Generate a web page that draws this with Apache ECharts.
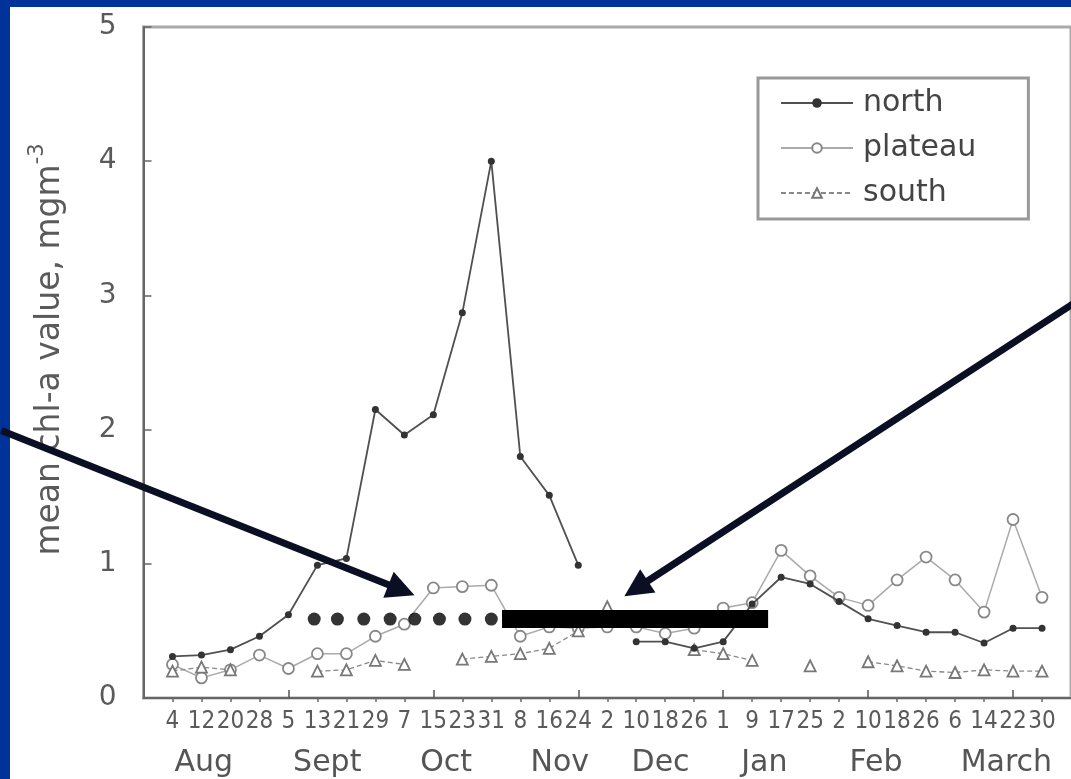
<!DOCTYPE html>
<html><head><meta charset="utf-8">
<script src="https://cdn.jsdelivr.net/npm/echarts@6/dist/echarts.min.js"></script>
<style>html,body{margin:0;padding:0;background:#003399;}#c{width:1071px;height:779px;}</style>
</head><body><div id="c"></div>
<script>
// ---- data ----
const dateLabels = ['4','12','20','28','5','13','21','29','7','15','23','31','8','16','24','2','10','18','26','1','9','17','25','2','10','18','26','6','14','22','30'];
const monthLabels = ['Aug','Sept','Oct','Nov','Dec','Jan','Feb','March'];
const monthPositions = [2.08, 6.34, 10.44, 14.36, 17.84, 21.42, 25.27, 29.77];
const north   = [0.31,0.32,0.36,0.46,0.62,0.99,1.04,2.15,1.96,2.11,2.87,4.00,1.80,1.51,0.99,null,0.42,0.42,0.37,0.42,0.70,0.90,0.85,0.72,0.59,0.54,0.49,0.49,0.41,0.52,0.52];
const plateau = [0.25,0.15,0.21,0.32,0.22,0.33,0.33,0.46,0.55,0.82,0.83,0.84,0.46,0.53,0.52,0.53,0.53,0.48,0.52,0.67,0.71,1.10,0.91,0.75,0.69,0.88,1.05,0.88,0.64,1.33,0.75];
const south   = [0.20,0.23,0.21,null,null,0.20,0.21,0.28,0.25,null,0.29,0.31,0.33,0.37,0.50,0.68,null,null,0.36,0.33,0.28,null,0.24,null,0.27,0.24,0.20,0.19,0.21,0.20,0.20];
const yTicks = [0,1,2,3,4,5];
// annotation marks (in axis units)
const dotMarksX = [5.89,6.69,7.60,8.51,9.36,10.21,11.09,12.0];
const dotMarksY = 0.588;
const barMarkX = [12.37, 21.55];
const barMarkY = 0.588;
const arrowFrom = [[-4.91, 1.994], [32.3, 2.97]];
const arrowTo   = [[9.35, 0.766], [16.59, 0.759]];

// ---- build ----
const cats = [''].concat(dateLabels, ['']);
const pad = a => [null].concat(a, [null]);
const majorIdx = i => i > 0 && i < cats.length - 1 && i % 5 === 0;
const FONT = '"DejaVu Sans", "Liberation Sans", sans-serif';
const TXT = '#5a5a5a';

const chart = echarts.init(document.getElementById('c'), null, {renderer: 'canvas'});
const option = {
  backgroundColor: '#003399',
  animation: false,
  grid: {left: 143.5, top: 27, width: 938.2, height: 671, show: true, borderColor: '#aaa', borderWidth: 3, backgroundColor: 'transparent'},
  legend: {
    data: ['north','plateau','south'], orient: 'vertical', left: 758, top: 78,
    itemWidth: 72, itemHeight: 12, itemGap: 15,
    padding: [10, 52, 11, 22],
    borderColor: '#999', borderWidth: 3, backgroundColor: '#fff',
    textStyle: {fontFamily: FONT, fontSize: 30, color: '#444', lineHeight: 30, padding: [0, 0, 0, 5]}
  },
  xAxis: [
    {type: 'category', data: cats, boundaryGap: false, position: 'bottom',
     axisLine: {lineStyle: {color: '#666', width: 2}},
     axisTick: {show: true, length: 4, interval: (i) => i > 0 && i < cats.length - 1 && !majorIdx(i), lineStyle: {color: '#666', width: 1.5}},
     axisLabel: {interval: (i) => i > 0 && i < cats.length - 1, margin: 12, fontSize: 24, color: TXT, hideOverlap: false,
                 fontFamily: '"Liberation Sans Narrow", "DejaVu Sans Condensed", "Liberation Sans", sans-serif'},
     splitLine: {show: false}},
    {type: 'category', data: cats, boundaryGap: false, position: 'bottom',
     axisLine: {show: false}, axisLabel: {show: false}, splitLine: {show: false},
     axisTick: {show: true, inside: true, length: 8, interval: (i) => majorIdx(i), lineStyle: {color: '#555', width: 1.5}}},
    {type: 'value', min: 0, max: cats.length - 1, show: false, position: 'bottom'}
  ],
  yAxis: {
    type: 'value', min: yTicks[0], max: yTicks[yTicks.length - 1], interval: 1,
    name: '{a|mean chl-a value, mgm}{s|-3}', nameLocation: 'middle', nameRotate: 90, nameGap: 70,
    nameTextStyle: {padding: [0, 0, 0, 26], rich: {
      a: {fontFamily: FONT, fontSize: 33, color: TXT, lineHeight: 46},
      s: {fontFamily: FONT, fontSize: 21, color: TXT, lineHeight: 21, verticalAlign: 'top'}
    }},
    axisLine: {show: true, lineStyle: {color: '#666', width: 2}},
    axisTick: {show: true, inside: true, length: 8, lineStyle: {color: '#666', width: 1.5}},
    axisLabel: {fontFamily: FONT, fontSize: 28, color: TXT, margin: 27},
    splitLine: {show: false}
  },
  series: [
    {name: 'north', type: 'line', xAxisIndex: 0, data: pad(north), symbol: 'circle', symbolSize: 7,
     itemStyle: {color: '#333'}, lineStyle: {color: '#505050', width: 1.8}, z: 3},
    {name: 'plateau', type: 'line', xAxisIndex: 0, data: pad(plateau), symbol: 'circle', symbolSize: 11,
     itemStyle: {color: '#fff', borderColor: '#888', borderWidth: 1.8}, lineStyle: {color: '#aaa', width: 1.5}, z: 2},
    {name: 'south', type: 'line', xAxisIndex: 0, data: pad(south), symbol: 'triangle', symbolSize: 11,
     itemStyle: {color: '#fff', borderColor: '#777', borderWidth: 1.8}, lineStyle: {color: '#888', width: 1.3, type: [5, 3]}, z: 2},
    {name: 'dots', type: 'scatter', xAxisIndex: 2, data: dotMarksX.map(x => [x, dotMarksY]), symbolSize: 13,
     itemStyle: {color: '#000'}, z: 10, silent: true},
    {name: 'bar', type: 'line', xAxisIndex: 2, data: barMarkX.map(x => [x, barMarkY]), symbol: 'none',
     lineStyle: {color: '#000', width: 18, cap: 'butt'}, z: 10, silent: true}
  ],
  graphic: [
    {id: 'paper', type: 'rect', z: -100, shape: {x: 10, y: 7, width: 1061, height: 772}, style: {fill: '#fff'}, silent: true}
  ]
};
chart.setOption(option);

// annotations through the axes' own scales
const toPx = p => chart.convertToPixel({xAxisIndex: 2, yAxisIndex: 0}, p);
const g = [];
const yBottom = toPx([0, 0])[1];
monthLabels.forEach((m, i) => {
  const p = toPx([monthPositions[i], 0]);
  g.push({id: 'm' + i, type: 'text', z: 50, style: {text: m, x: p[0], y: yBottom + 65, textAlign: 'center', textVerticalAlign: 'middle',
          font: '30px "DejaVu Sans", "Liberation Sans", sans-serif', fill: '#555'}});
});
arrowFrom.forEach((f, i) => {
  const a = toPx(f), b = toPx(arrowTo[i]);
  const dx = b[0] - a[0], dy = b[1] - a[1], L = Math.hypot(dx, dy);
  const ux = dx / L, uy = dy / L, nx = -uy, ny = ux;
  const hl = 28, hw = 14;
  const base = [b[0] - ux * hl, b[1] - uy * hl];
  g.push({id: 'as' + i, type: 'line', z: 100, shape: {x1: a[0], y1: a[1], x2: base[0] + ux * 2, y2: base[1] + uy * 2},
          style: {stroke: '#0a0f24', lineWidth: 7}});
  g.push({id: 'ah' + i, type: 'polygon', z: 100, shape: {points: [b, [base[0] + nx * hw, base[1] + ny * hw], [base[0] - nx * hw, base[1] - ny * hw]]},
          style: {fill: '#0a0f24'}});
});
chart.setOption({graphic: g});
</script></body></html>
